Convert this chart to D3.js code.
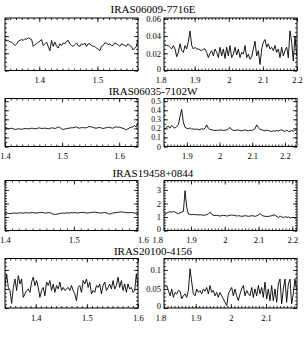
<!DOCTYPE html>
<html><head><meta charset="utf-8">
<script src="https://cdn.jsdelivr.net/npm/d3@7"></script>
<style>
body{margin:0;background:#fff}
svg{display:block}
text{font-family:"Liberation Serif","DejaVu Serif",serif;fill:#000}
</style>
</head><body>
<svg id="c" width="305" height="349"></svg>
<script>
const titles = ["IRAS06009-7716E","IRAS06035-7102W","IRAS19458+0844","IRAS20100-4156"];

// wavelength coverage (first, last sample) in micron
const leftWave1 = [1.341, 1.570];
const rightWave1 = [1.813, 2.199];
const leftWave2 = [1.400, 1.633];
const rightWave2 = [1.833, 2.236];
const leftWave3 = [1.400, 1.593];
const rightWave3 = [1.823, 2.214];
const leftWave4 = [1.340, 1.600];
const rightWave4 = [1.813, 2.187];

const leftFlux1 = [.036,.035,.035,.033,.033,.031,.029,.031,.034,.035,
.036,.035,.037,.036,.038,.037,.036,.028,.030,.031,
.033,.034,.036,.029,.031,.033,.028,.023,.035,.028,
.033,.028,.026,.031,.029,.032,.031,.034,.035,.031,
.029,.028,.030,.032,.029,.028,.031,.030,.032,.028,
.031,.031,.029,.028,.028,.026,.025,.023,.028,.029,
.032,.032,.030,.031,.029,.029,.032,.031,.030,.028,
.031,.030,.029,.028,.031,.029,.028,.024,.026,.028,
.036];
const rightFlux1 = [.031,.029,.029,.027,.025,.029,.025,.016,.021,.031,
.023,.021,.029,.025,.034,.046,.029,.025,.027,.025,
.025,.024,.023,.025,.025,.021,.015,.020,.023,.017,
.025,.021,.015,.027,.017,.025,.014,.027,.017,.029,
.015,.019,.027,.018,.025,.015,.021,.019,.029,.015,
.019,.013,.016,.025,.034,.017,.023,.007,.025,.033,
.036,.027,.031,.025,.027,.023,.029,.021,.025,.015,
.027,.017,.023,.027,.015,.046,.033,.011,.040,.017];
const leftFlux2 = [.213,.206,.195,.199,.202,.195,.188,.191,.195,.193,
.191,.195,.199,.197,.195,.199,.202,.199,.195,.199,
.206,.202,.199,.202,.202,.199,.195,.202,.206,.202,
.199,.210,.217,.202,.188,.191,.195,.199,.202,.206,
.206,.210,.217,.210,.202,.206,.210,.206,.206,.213,
.221,.217,.213,.206,.202,.206,.210,.206,.199,.202,
.206,.210,.213,.206,.202,.210,.217,.213,.213,.206,
.202,.195,.184,.195,.206,.213,.217,.232,.213,.261];
const rightFlux2 = [.195,.213,.224,.202,.232,.213,.202,.221,.239,.330,
.410,.270,.213,.202,.195,.206,.191,.195,.188,.195,
.184,.188,.195,.191,.202,.239,.202,.188,.184,.180,
.177,.180,.177,.184,.180,.177,.180,.184,.195,.210,
.184,.180,.177,.180,.184,.177,.173,.180,.184,.177,
.173,.180,.177,.184,.195,.239,.210,.188,.184,.177,
.173,.180,.177,.169,.166,.173,.169,.177,.169,.180,
.184,.173,.166,.180,.169,.166,.177,.166,.184,.173];
const leftFlux3 = [1.27,1.29,1.27,1.25,1.27,1.29,1.29,1.27,1.29,1.31,
1.29,1.29,1.31,1.31,1.29,1.31,1.33,1.31,1.29,1.31,
1.31,1.33,1.34,1.31,1.29,1.31,1.33,1.31,1.24,1.20,
1.19,1.22,1.24,1.27,1.29,1.27,1.29,1.31,1.29,1.31,
1.31,1.33,1.31,1.29,1.31,1.33,1.34,1.33,1.31,1.29,
1.31,1.33,1.34,1.36,1.34,1.33,1.31,1.29,1.31,1.33,
1.31,1.27,1.22,1.24,1.29,1.31,1.33,1.34,1.36,1.38,
1.36,1.34,1.33,1.31,1.33,1.34,1.31,1.29,1.27,1.29];
const rightFlux3 = [1.22,1.29,1.34,1.39,1.36,1.41,1.36,1.29,1.24,1.31,
1.36,1.41,2.95,1.70,1.22,1.19,1.17,1.19,1.17,1.17,
1.15,1.17,1.15,1.12,1.15,1.17,1.24,1.36,1.19,1.12,
1.10,1.12,1.10,1.07,1.10,1.12,1.10,1.07,1.10,1.12,
1.15,1.12,1.10,1.07,1.10,1.07,1.05,1.07,1.10,1.07,
1.05,1.07,1.10,1.07,1.05,1.10,1.17,1.26,1.12,1.07,
1.05,1.03,1.05,1.07,1.10,1.15,1.12,1.03,0.97,1.05,
1.00,0.95,1.03,0.97,1.00,0.92,0.97,0.95,0.90,0.97];
const leftFlux4 = [.059,.089,.054,.046,.012,.054,.076,.046,.085,.063,
.076,.028,.037,.046,.050,.041,.068,.081,.059,.072,
.054,.028,.046,.054,.032,.068,.059,.072,.046,.063,
.041,.059,.050,.068,.046,.054,.046,.050,.054,.046,
.059,.046,.037,.019,.054,.059,.041,.072,.063,.076,
.054,.068,.037,.046,.041,.059,.054,.063,.037,.059,
.068,.046,.054,.063,.050,.072,.050,.059,.081,.054,
.072,.046,.063,.041,.063,.050,.054,.041,.046,.089,
.059];
const rightFlux4 = [.054,.059,.046,.032,.050,.028,.041,.037,.046,.044,
.024,.032,.037,.028,.046,.103,.068,.037,.032,.050,
.041,.046,.037,.050,.044,.054,.037,.059,.041,.046,
.032,.041,.028,.041,.032,.024,.015,.006,.037,.046,
.054,.032,.050,.032,.019,.037,.050,.059,.032,.046,
.037,.032,.054,.028,.050,.032,.059,.037,.054,.028,
.068,.024,.050,.019,.059,.019,.050,.015,.063,.076,
.011,.050,.076,.015,.063,.076,.011,.037,.076,.046];

const leftXTicks1 = [1.4, 1.5];
const rightXTicks1 = [1.8, 1.9, 2, 2.1, 2.2];
const leftXTicks2 = [1.4, 1.5, 1.6];
const rightXTicks2 = [1.9, 2, 2.1, 2.2];
const leftXTicks3 = [1.4, 1.5, 1.6];
const rightXTicks3 = [1.8, 1.9, 2, 2.1, 2.2];
const leftXTicks4 = [1.4, 1.5, 1.6];
const rightXTicks4 = [1.8, 1.9, 2, 2.1];
const yTicks1 = [0, 0.02, 0.04, 0.06];
const yTicks2 = [0, 0.1, 0.2, 0.3, 0.4, 0.5];
const yTicks3 = [0, 1, 2, 3];
const yTicks4 = [0, 0.05, 0.1];

const rows = [
  {title:titles[0], top:18, bot:70.5, ty:12.5, yfs:8.5,
   lDom:[1.341,1.570], rDom:[1.81,2.20], yDom:[0,0.061], yMinor:0.005,
   lw:leftWave1, lf:leftFlux1, rw:rightWave1, rf:rightFlux1,
   lt:leftXTicks1, rt:rightXTicks1, yt:yTicks1},
  {title:titles[1], top:98.5, bot:146.5, ty:95, yfs:7.8,
   lDom:[1.40,1.633], rDom:[1.83,2.237], yDom:[0,0.53], yMinor:0.05,
   lw:leftWave2, lf:leftFlux2, rw:rightWave2, rf:rightFlux2,
   lt:leftXTicks2, rt:rightXTicks2, yt:yTicks2},
  {title:titles[2], top:180.5, bot:230.5, ty:176.5, yfs:8.5,
   lDom:[1.40,1.593], rDom:[1.82,2.214], yDom:[0,3.7], yMinor:0.2,
   lw:leftWave3, lf:leftFlux3, rw:rightWave3, rf:rightFlux3,
   lt:leftXTicks3, rt:rightXTicks3, yt:yTicks3},
  {title:titles[3], top:258.5, bot:308, ty:255, yfs:8.5,
   lDom:[1.34,1.60], rDom:[1.81,2.188], yDom:[0,0.13], yMinor:0.01,
   lw:leftWave4, lf:leftFlux4, rw:rightWave4, rf:rightFlux4,
   lt:leftXTicks4, rt:rightXTicks4, yt:yTicks4}
];

const svg = d3.select("#c");
const LX = [5, 138], RX = [164, 297];
let clipId = 0;

function minorVals(dom, step){
  const a = Math.ceil(dom[0]/step - 1e-6), b = Math.floor(dom[1]/step + 1e-6);
  return d3.range(a, b+1).map(k => +(k*step).toFixed(6));
}
function fmt(v){ return String(+v.toFixed(3)); }

function drawPanel(r, xr, xDom, wave, flux, xTicks, labelY){
  const x = d3.scaleLinear().domain(xDom).range(xr);
  const y = d3.scaleLinear().domain(r.yDom).range([r.bot, r.top]);
  const g = svg.append("g");
  const inDom = v => v >= xDom[0]-1e-9 && v <= xDom[1]+1e-9;
  const n = flux.length;
  const pts = flux.map((f,i) => [wave[0] + (wave[1]-wave[0])*i/(n-1), f]);
  const id = "clip" + (clipId++);
  g.append("clipPath").attr("id", id).append("rect")
    .attr("x", xr[0]).attr("y", r.top).attr("width", xr[1]-xr[0]).attr("height", r.bot-r.top);
  g.append("path").datum(pts)
    .attr("clip-path", `url(#${id})`)
    .attr("fill","none").attr("stroke","#000").attr("stroke-width",0.9)
    .attr("d", d3.line().x(d=>x(d[0])).y(d=>y(d[1])));
  g.append("rect").attr("x", xr[0]).attr("y", r.top)
    .attr("width", xr[1]-xr[0]).attr("height", r.bot-r.top)
    .attr("fill","none").attr("stroke","#000").attr("stroke-width",1);

  const xMin = minorVals(xDom, 0.01);
  const yMin = minorVals(r.yDom, r.yMinor);
  const xMaj = xTicks.filter(inDom);
  const yMaj = r.yt;
  const ax = [
    [d3.axisBottom(x).tickValues(xMin).tickSize(-2), r.bot, "x"],
    [d3.axisTop(x).tickValues(xMin).tickSize(-2), r.top, "x"],
    [d3.axisBottom(x).tickValues(xMaj).tickSize(-4), r.bot, "x"],
    [d3.axisTop(x).tickValues(xMaj).tickSize(-4), r.top, "x"],
    [d3.axisLeft(y).tickValues(yMin).tickSize(-2), xr[0], "y"],
    [d3.axisRight(y).tickValues(yMin).tickSize(-2), xr[1], "y"],
    [d3.axisLeft(y).tickValues(yMaj).tickSize(-4), xr[0], "y"],
    [d3.axisRight(y).tickValues(yMaj).tickSize(-4), xr[1], "y"]
  ];
  ax.forEach(([a, pos, t]) => {
    const gg = g.append("g").attr("transform", t==="x" ? `translate(0,${pos})` : `translate(${pos},0)`)
      .call(a.tickFormat(""));
    gg.select(".domain").remove();
    gg.selectAll("line").attr("stroke","#000").attr("stroke-width",0.8);
  });
  const xl = g.append("g").attr("transform", `translate(0,${r.bot})`)
    .call(d3.axisBottom(x).tickValues(xTicks).tickSize(0).tickPadding(6.5).tickFormat(fmt));
  xl.select(".domain").remove();
  xl.selectAll("text").attr("font-size", 8.5).attr("font-family", '"Liberation Serif",serif');
  if (labelY){
    const has18 = xTicks.indexOf(1.8) >= 0;
    const yl = g.append("g").attr("transform", `translate(${xr[0]},0)`)
      .call(d3.axisLeft(y).tickValues(r.yt).tickSize(0).tickPadding(3).tickFormat(fmt));
    yl.select(".domain").remove();
    yl.selectAll("text").attr("font-size", r.yfs).attr("font-family", '"Liberation Serif",serif')
      .attr("dy", (d) => (d === 0 && has18) ? "0.1em" : "0.32em");
  }
}

rows.forEach(r => {
  svg.append("text").attr("x", 153).attr("y", r.ty).attr("text-anchor","middle")
    .attr("font-size", 11).text(r.title);
  drawPanel(r, LX, r.lDom, r.lw, r.lf, r.lt, false);
  drawPanel(r, RX, r.rDom, r.rw, r.rf, r.rt, true);
});
</script>
</body></html>
